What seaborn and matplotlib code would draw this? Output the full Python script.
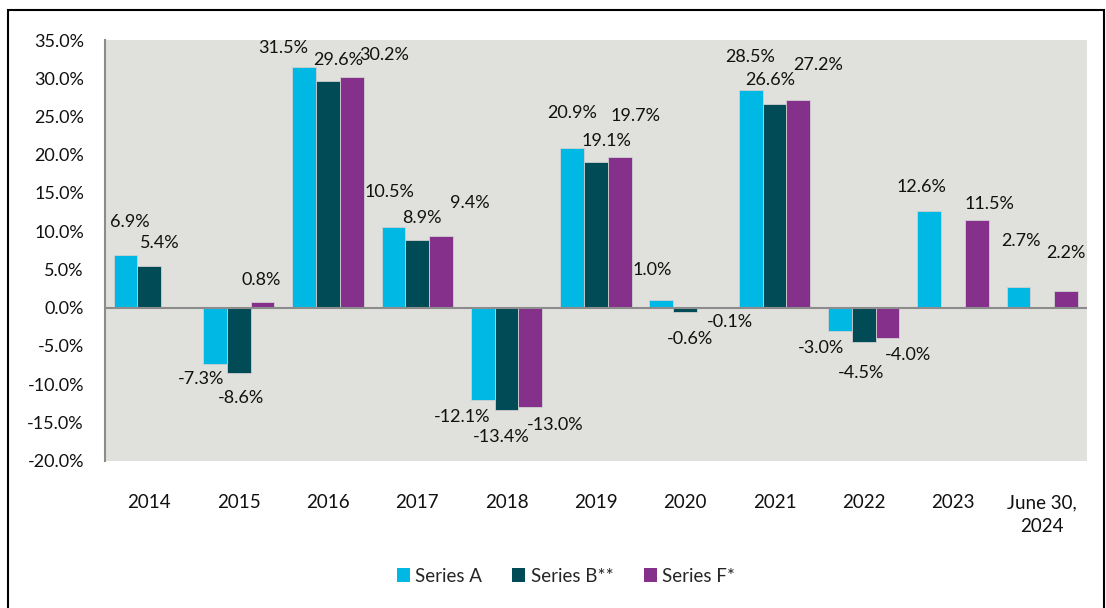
import numpy as np
import pandas as pd
import matplotlib
matplotlib.use("Agg")
import matplotlib.pyplot as plt
import matplotlib.patches as mpatches
import seaborn as sns

# ---- data ----
categories = ["2014", "2015", "2016", "2017", "2018", "2019", "2020",
              "2021", "2022", "2023", "June 30,\n2024"]
series_names = ["Series A", "Series B**", "Series F*"]
series_a = [6.9, -7.3, 31.5, 10.5, -12.1, 20.9, 1.0, 28.5, -3.0, 12.6, 2.7]
series_b = [5.4, -8.6, 29.6, 8.9, -13.4, 19.1, -0.6, 26.6, -4.5, np.nan, np.nan]
series_f = [np.nan, 0.8, 30.2, 9.4, -13.0, 19.7, -0.1, 27.2, -4.0, 11.5, 2.2]
y_ticks = [-20, -15, -10, -5, 0, 5, 10, 15, 20, 25, 30, 35]

# ---- label placement offsets (pixels from bar end), style only ----
label_offsets = {
    "Series A": [(4, 33), (-14, -15), (-21, 19), (-4, 35), (-21, -17), (0, 35),
                 (-9, 30), (0, 33), (-19, -17), (-8, 24), (2, 46)],
    "Series B**": [(10, 23), (2, -25), (10, 21), (5, 22), (-5, -27), (11, 21),
                   (5, -27), (-4, 24), (-3, -31), (0, 0), (0, 0)],
    "Series F*": [(0, 0), (-1, 22), (32, 22), (29, 33), (25, -18), (16, 41),
                  (21, -14), (20, 35), (20, -17), (13, 16), (0, 38)],
}

colors = ["#00B8E4", "#004B55", "#85318C"]

rows = []
for name, vals in zip(series_names, [series_a, series_b, series_f]):
    for c, v in zip(categories, vals):
        rows.append({"Category": c, "Series": name, "Value": v})
df = pd.DataFrame(rows).dropna()

sns.set_theme(style="white")
plt.rcParams["font.family"] = ["Lato", "DejaVu Sans"]

fig = plt.figure(figsize=(11.06, 6.08), dpi=100)
ax = fig.add_axes([0.0947, 0.2423, 0.8881, 0.6919])
ax.set_facecolor("#E0E0DC")

sns.barplot(data=df, x="Category", y="Value", hue="Series",
            order=categories, hue_order=series_names, palette=colors,
            width=0.8, errorbar=None, ax=ax, edgecolor="#D0D0D0",
            linewidth=0.6, legend=False, saturation=1)

ax.set_ylim(-20, 35)
ax.set_xlim(-0.5, len(categories) - 0.5)
ax.set_yticks(y_ticks)
ax.set_yticklabels([f"{t:.1f}%" for t in y_ticks], fontsize=13, color="#111111")
ax.set_xticks(range(len(categories)))
ax.set_xticklabels(categories, fontsize=13.5, color="#111111", linespacing=1.5)
ax.tick_params(axis="x", length=0, pad=24)
ax.tick_params(axis="y", length=0, pad=15)
ax.set_xlabel("")
ax.set_ylabel("")

for s in ["top", "right", "bottom"]:
    ax.spines[s].set_visible(False)
ax.spines["left"].set_color("#8C8C8C")
ax.spines["left"].set_linewidth(1.5)
ax.axhline(0, color="#8C8C8C", linewidth=1.5, zorder=3)

# data labels
for name, cont, vals in zip(series_names, ax.containers,
                            [series_a, series_b, series_f]):
    for bar in cont:
        cx = bar.get_x() + bar.get_width() / 2
        idx = int(round(cx))
        v = vals[idx]
        if np.isnan(v):
            continue
        dx, dy = label_offsets[name][idx]
        ax.annotate(f"{v:.1f}%", xy=(cx, v), xytext=(dx, dy),
                    textcoords="offset pixels", ha="center", va="center",
                    fontsize=13, color="#111111", annotation_clip=False)

handles = [mpatches.Patch(facecolor=c, edgecolor="none", label=n)
           for c, n in zip(colors, series_names)]
fig.legend(handles=handles, loc="center", bbox_to_anchor=(566 / 1106, 1 - 576 / 608),
           ncol=3, frameon=False, fontsize=13.5, handlelength=0.7, handleheight=0.7,
           handletextpad=0.3, columnspacing=1.6)

# outer border
border = mpatches.Rectangle((8 / 1106, -0.02), (1104 - 8) / 1106, 1.02 - 10 / 608,
                            transform=fig.transFigure, fill=False,
                            edgecolor="black", linewidth=1.5)
fig.patches.append(border)

fig.savefig("out.png", dpi=100)
